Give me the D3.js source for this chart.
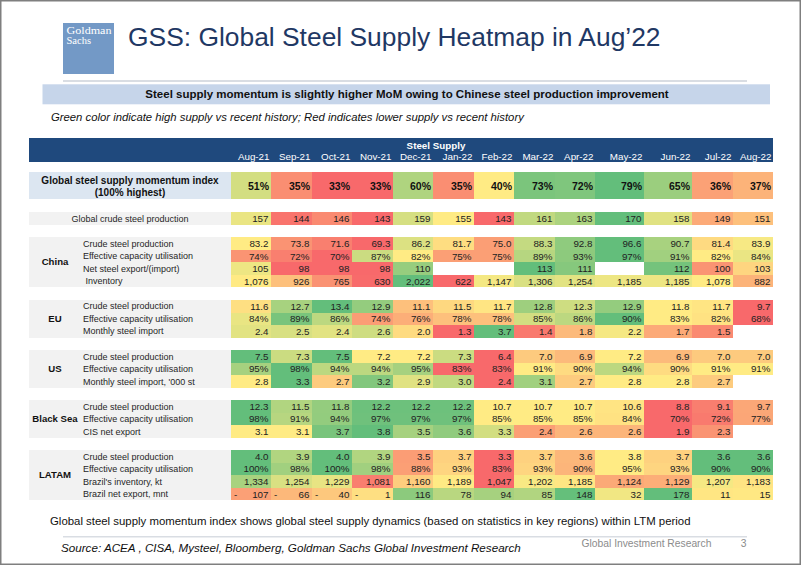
<!DOCTYPE html>
<html>
<head>
<meta charset="utf-8">
<script src="https://cdn.jsdelivr.net/npm/d3@7"></script>
<style>
  body { margin: 0; background: #fff; }
  svg { display: block; font-family: "Liberation Sans", Arial, Helvetica, sans-serif; }
</style>
</head>
<body>
<svg id="chart" width="802" height="567"></svg>
<script>
// ---------------- DATA ----------------
const months = ["Aug-21","Sep-21","Oct-21","Nov-21","Dec-21","Jan-22","Feb-22","Mar-22","Apr-22","May-22","Jun-22","Jul-22","Aug-22"];

const momentumIndex   = [51, 35, 33, 33, 60, 35, 40, 73, 72, 79, 65, 36, 37];
const globalCrude     = [157, 144, 146, 143, 159, 155, 143, 161, 163, 170, 158, 149, 151];

const chinaCrude      = [83.2, 73.8, 71.6, 69.3, 86.2, 81.7, 75.0, 88.3, 92.8, 96.6, 90.7, 81.4, 83.9];
const chinaUtil       = [74, 72, 70, 87, 82, 75, 75, 89, 93, 97, 91, 82, 84];
const chinaNetExport  = [105, 98, 98, 98, 110, null, null, 113, 111, null, 112, 100, 103];
const chinaInventory  = [1076, 926, 765, 630, 2022, 622, 1147, 1306, 1254, 1185, 1185, 1078, 882];

const euCrude         = [11.6, 12.7, 13.4, 12.9, 11.1, 11.5, 11.7, 12.8, 12.3, 12.9, 11.8, 11.7, 9.7];
const euUtil          = [84, 89, 86, 74, 76, 78, 78, 85, 86, 90, 83, 82, 68];
const euImport        = [2.4, 2.5, 2.4, 2.6, 2.0, 1.3, 3.7, 1.4, 1.8, 2.2, 1.7, 1.5, null];

const usCrude         = [7.5, 7.3, 7.5, 7.2, 7.2, 7.3, 6.4, 7.0, 6.9, 7.2, 6.9, 7.0, 7.0];
const usUtil          = [95, 98, 94, 94, 95, 83, 83, 91, 90, 94, 90, 91, 91];
const usImport        = [2.8, 3.3, 2.7, 3.2, 2.9, 3.0, 2.4, 3.1, 2.7, 2.8, 2.8, 2.7, null];

const bsCrude         = [12.3, 11.5, 11.8, 12.2, 12.2, 12.2, 10.7, 10.7, 10.7, 10.6, 8.8, 9.1, 9.7];
const bsUtil          = [98, 91, 94, 97, 97, 97, 85, 85, 85, 84, 70, 72, 77];
const cisExport       = [3.1, 3.1, 3.7, 3.8, 3.5, 3.6, 3.3, 2.4, 2.6, 2.6, 1.9, 2.3, null];

const latamCrude      = [4.0, 3.9, 4.0, 3.9, 3.5, 3.7, 3.3, 3.7, 3.6, 3.8, 3.7, 3.6, 3.6];
const latamUtil       = [100, 98, 100, 98, 88, 93, 83, 93, 90, 95, 93, 90, 90];
const brazilInventory = [1334, 1254, 1229, 1081, 1160, 1189, 1047, 1202, 1185, 1124, 1129, 1207, 1183];
const brazilNetExport = [-107, -66, -40, -1, 116, 78, 94, 85, 148, 32, 178, 11, 15];

// colour-scale settings (min / mid / max of the conditional format) where the sheet's range differs from the row
const latamCrudeDomain      = [3.3, 3.8, 4.0];
const latamUtilDomain       = [83, 95, 100];
const brazilInventoryDomain = [1060, 1190, 1450];
const brazilNetExportDomain = [-200, 20, 150];
const latamSeparateFrom     = "Jul-22";   // LATAM production rows: last months formatted as their own range

// ---------------- LAYOUT ----------------
const svg = d3.select("#chart");
const W = 802, H = 567;
const RED = "#F8696B", YEL = "#FFEB84", GRN = "#63BE7B";
const wideMonths = ["May-22", "Jun-22"];

const colWeight = months.map(m => wideMonths.includes(m) ? 1.2 : 1);
const cum = [0]; colWeight.forEach((w, i) => cum.push(cum[i] + w));
const xs = d3.scaleLinear().domain([0, cum[cum.length - 1]]).range([231, 773]);
const colL = i => Math.round(xs(cum[i]));
const colR = i => Math.round(xs(cum[i + 1]));

const fmt1 = d3.format(".1f"), fmtInt = d3.format("d"), fmtComma = d3.format(","), fmtPct = v => v + "%";
const sepIdx = months.indexOf(latamSeparateFrom);
const mainCols = d3.range(sepIdx), tailCols = d3.range(sepIdx, months.length);

const groups = [
  { name: "", rows: [ { label: "Global crude steel production", values: globalCrude, fmt: fmtInt } ] },
  { name: "China", rows: [
    { label: "Crude steel production", values: chinaCrude, fmt: fmt1 },
    { label: "Effective capacity utilisation", values: chinaUtil, fmt: fmtPct },
    { label: "Net steel export/(import)", values: chinaNetExport, fmt: fmtInt },
    { label: "\u00A0Inventory", values: chinaInventory, fmt: fmtComma } ] },
  { name: "EU", rows: [
    { label: "Crude steel production", values: euCrude, fmt: fmt1 },
    { label: "Effective capacity utilisation", values: euUtil, fmt: fmtPct },
    { label: "Monthly steel import", values: euImport, fmt: fmt1 } ] },
  { name: "US", rows: [
    { label: "Crude steel production", values: usCrude, fmt: fmt1 },
    { label: "Effective capacity utilisation", values: usUtil, fmt: fmtPct },
    { label: "Monthly steel import, '000 st", values: usImport, fmt: fmt1 } ] },
  { name: "Black Sea", rows: [
    { label: "Crude steel production", values: bsCrude, fmt: fmt1 },
    { label: "Effective capacity utilisation", values: bsUtil, fmt: fmtPct },
    { label: "CIS net export", values: cisExport, fmt: fmt1 } ] },
  { name: "LATAM", rows: [
    { label: "Crude steel production", values: latamCrude, fmt: fmt1,
      segments: [ { cols: mainCols, domain: latamCrudeDomain }, { cols: tailCols } ] },
    { label: "Effective capacity utilisation", values: latamUtil, fmt: fmtPct,
      segments: [ { cols: mainCols, domain: latamUtilDomain }, { cols: tailCols } ] },
    { label: "Brazil's inventory, kt", values: brazilInventory, fmt: fmtComma,
      segments: [ { cols: d3.range(months.length), domain: brazilInventoryDomain } ] },
    { label: "Brazil net export, mnt", values: brazilNetExport, fmt: fmtInt, accounting: true,
      segments: [ { cols: d3.range(months.length), domain: brazilNetExportDomain } ] } ] }
];

// colour per cell via per-range d3 linear scales (min -> red, median -> yellow, max -> green)
function colourFn(row) {
  const segs = row.segments || [ { cols: d3.range(months.length) } ];
  const byCol = new Map();
  segs.forEach(seg => {
    const vals = seg.cols.map(i => row.values[i]).filter(v => v != null).sort(d3.ascending);
    const dom = seg.domain || [d3.min(vals), d3.quantile(vals, 0.5), d3.max(vals)];
    const flat = dom[0] === dom[2];
    const sc = d3.scaleLinear().domain(dom).range([RED, YEL, GRN]).clamp(true);
    seg.cols.forEach(i => byCol.set(i, flat ? GRN : sc(row.values[i])));
  });
  return i => byCol.get(i);
}

// vertical slots
const slots = [];
groups.forEach((g, gi) => {
  if (gi > 0) slots.push("gap" + gi);
  g.rows.forEach((r, ri) => { r.id = gi + "-" + ri; slots.push(r.id); });
});
const y = d3.scaleBand().domain(slots).range([212.3, 500.4]).padding(0);
const yR = id => Math.round(y(id));
const yB = id => Math.round(y(id) + y.bandwidth());

// ---------------- DRAW ----------------
svg.append("rect").attr("width", W).attr("height", H).attr("fill", "#fff");

// logo
const logo = svg.append("g");
logo.append("rect").attr("x", 63).attr("y", 23).attr("width", 51).attr("height", 51).attr("fill", "#7399C6");
logo.append("text").attr("x", 66.5).attr("y", 33.5).attr("fill", "#fff")
  .attr("font-family", "'Liberation Serif', 'Times New Roman', serif").attr("font-size", 10)
  .attr("textLength", 45).attr("lengthAdjust", "spacingAndGlyphs").text("Goldman");
logo.append("text").attr("x", 66.5).attr("y", 43.5).attr("fill", "#fff")
  .attr("font-family", "'Liberation Serif', 'Times New Roman', serif").attr("font-size", 10)
  .attr("textLength", 24.5).attr("lengthAdjust", "spacingAndGlyphs").text("Sachs");

// title
svg.append("text").attr("x", 128).attr("y", 46).attr("fill", "#1F3864").attr("font-size", 26.4)
  .text("GSS: Global Steel Supply Heatmap in Aug\u201922");

// separator
svg.append("line").attr("x1", 63).attr("x2", 747).attr("y1", 81).attr("y2", 81)
  .attr("stroke", "#D9DDE3").attr("stroke-width", 2);

// banner
svg.append("rect").attr("x", 42.5).attr("y", 84.3).attr("width", 727.5).attr("height", 20).attr("fill", "#C6D5EA");
svg.append("text").attr("x", 407).attr("y", 98.4).attr("text-anchor", "middle").attr("font-weight", "bold")
  .attr("font-size", 11.5).attr("fill", "#111")
  .text("Steel supply momentum is slightly higher MoM owing to Chinese steel production improvement");

// subtitle
svg.append("text").attr("x", 51).attr("y", 121).attr("font-style", "italic").attr("font-size", 11.3).attr("fill", "#111")
  .text("Green color indicate high supply vs recent history; Red indicates lower supply vs recent history");

// header band
svg.append("rect").attr("x", 29).attr("y", 138).attr("width", 744).attr("height", 24).attr("fill", "#1F497D");
svg.append("text").attr("x", colL(months.indexOf("Jan-22")) + 3).attr("y", 148.6).attr("text-anchor", "middle")
  .attr("font-weight", "bold").attr("font-size", 9.8).attr("fill", "#fff").text("Steel Supply");
svg.append("g").selectAll("text").data(months).join("text")
  .attr("x", (d, i) => colR(i) - 1.5).attr("y", 160.2).attr("text-anchor", "end")
  .attr("font-size", 9.8).attr("fill", "#fff").text(d => d);

// momentum row
const momTop = 172, momBot = 199;
svg.append("rect").attr("x", 29).attr("y", momTop).attr("width", 202).attr("height", momBot - momTop).attr("fill", "#DCE6F1");
svg.append("text").attr("x", 130).attr("y", 183.6).attr("text-anchor", "middle").attr("font-weight", "bold")
  .attr("font-size", 10).attr("fill", "#111").text("Global steel supply momentum index");
svg.append("text").attr("x", 130).attr("y", 195.6).attr("text-anchor", "middle").attr("font-weight", "bold")
  .attr("font-size", 10).attr("fill", "#111").text("(100% highest)");
const momRow = { values: momentumIndex };
const momCol = colourFn(momRow);
const momG = svg.append("g");
momG.selectAll("rect").data(momentumIndex).join("rect")
  .attr("x", (d, i) => colL(i)).attr("width", (d, i) => colR(i) - colL(i))
  .attr("y", momTop).attr("height", momBot - momTop).attr("fill", (d, i) => momCol(i));
momG.selectAll("text").data(momentumIndex).join("text")
  .attr("x", (d, i) => colR(i) - 2).attr("y", 190.3).attr("text-anchor", "end")
  .attr("font-weight", "bold").attr("font-size", 10.5).attr("fill", "#111").text(d => d + "%");

// blocks
groups.forEach(g => {
  const first = g.rows[0].id, last = g.rows[g.rows.length - 1].id;
  const top = yR(first), bot = yB(last);
  const bg = svg.append("g");
  bg.append("rect").attr("x", 29).attr("y", top).attr("width", 202).attr("height", bot - top).attr("fill", "#F2F2F2");
  if (g.name) {
    bg.append("text").attr("x", 55).attr("y", (top + bot) / 2 + 3.4).attr("text-anchor", "middle")
      .attr("font-weight", "bold").attr("font-size", 9.6).attr("fill", "#111").text(g.name);
  }
  g.rows.forEach(r => {
    const cy = y(r.id) + y.bandwidth() / 2;
    if (g.name) {
      bg.append("text").attr("x", 83).attr("y", cy + 3.2).attr("font-size", 9).attr("fill", "#262626").text(r.label);
    } else {
      bg.append("text").attr("x", 130).attr("y", cy + 3.2).attr("text-anchor", "middle")
        .attr("font-size", 9).attr("fill", "#262626").text(r.label);
    }
    const col = colourFn(r);
    const cells = r.values.map((v, i) => ({ v, i })).filter(d => d.v != null);
    const rg = svg.append("g");
    rg.selectAll("rect").data(cells).join("rect")
      .attr("x", d => colL(d.i)).attr("width", d => colR(d.i) - colL(d.i))
      .attr("y", yR(r.id)).attr("height", yB(r.id) - yR(r.id))
      .attr("fill", d => col(d.i));
    rg.selectAll("text.v").data(cells).join("text").attr("class", "v")
      .attr("x", d => colR(d.i) - 2.5).attr("y", cy + 3.4).attr("text-anchor", "end")
      .attr("font-size", 9.8).attr("fill", "#222")
      .text(d => r.accounting ? fmtInt(Math.abs(d.v)) : r.fmt(d.v));
    if (r.accounting) {
      rg.selectAll("text.neg").data(cells.filter(d => d.v < 0)).join("text").attr("class", "neg")
        .attr("x", d => colL(d.i) + 3).attr("y", cy + 3.4)
        .attr("font-size", 9.8).attr("fill", "#222").text("-");
    }
  });
});

// footer
svg.append("text").attr("x", 50).attr("y", 524.5).attr("font-size", 11.4).attr("fill", "#111")
  .text("Global steel supply momentum index shows global steel supply dynamics (based on statistics in key regions) within LTM period");
svg.append("line").attr("x1", 63).attr("x2", 747).attr("y1", 536.7).attr("y2", 536.7)
  .attr("stroke", "#D9DDE3").attr("stroke-width", 1.5);
svg.append("text").attr("x", 61).attr("y", 551.8).attr("font-style", "italic").attr("font-size", 11.65).attr("fill", "#111")
  .text("Source: ACEA , CISA, Mysteel, Bloomberg, Goldman Sachs Global Investment Research");
svg.append("text").attr("x", 581.5).attr("y", 546.5).attr("font-size", 10.3).attr("fill", "#8C8C8C")
  .text("Global Investment Research");
svg.append("text").attr("x", 746.5).attr("y", 546.5).attr("text-anchor", "end").attr("font-size", 10.3).attr("fill", "#8C8C8C")
  .text("3");

// page frame
svg.append("rect").attr("x", 0.75).attr("y", 0.75).attr("width", 799.5).attr("height", 563.5)
  .attr("fill", "none").attr("stroke", "#7F7F7F").attr("stroke-width", 1.5);
</script>
</body>
</html>
